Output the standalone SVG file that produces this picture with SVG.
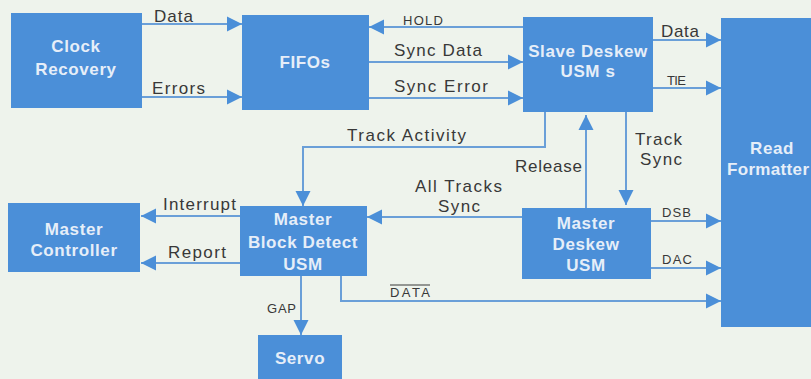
<svg xmlns="http://www.w3.org/2000/svg" width="811" height="379" viewBox="0 0 811 379">
<style>
.box{fill:#4b8fd8}
.bt{font-family:"Liberation Sans",Arial,sans-serif;font-weight:bold;font-size:17px;fill:#e6eef8;text-anchor:middle;letter-spacing:0.6px}
.lb{font-family:"Liberation Sans",Arial,sans-serif;font-size:17px;fill:#383838}
.sm{font-family:"Liberation Sans",Arial,sans-serif;font-size:13px;fill:#383838}
.cn{fill:none;stroke:#6a9fd8;stroke-width:2}
</style>
<defs>
<marker id="ah" markerUnits="userSpaceOnUse" markerWidth="16" markerHeight="16" refX="15" refY="8" orient="auto">
<path d="M0,0.5 L15,8 L0,15.5 z" fill="#4b8fd8"/>
</marker>
</defs>
<rect width="811" height="379" fill="#eef3ec"/>
<g id="connectors">
<path class="cn" d="M142,24 H242" marker-end="url(#ah)"/>
<path class="cn" d="M142,97 H242" marker-end="url(#ah)"/>
<path class="cn" d="M523,27 H369" marker-end="url(#ah)"/>
<path class="cn" d="M369,62 H523" marker-end="url(#ah)"/>
<path class="cn" d="M369,98 H523" marker-end="url(#ah)"/>
<path class="cn" d="M653,40 H721" marker-end="url(#ah)"/>
<path class="cn" d="M653,88 H721" marker-end="url(#ah)"/>
<path class="cn" d="M545,112 V147 H303 V206" marker-end="url(#ah)"/>
<path class="cn" d="M586,208 V115" marker-end="url(#ah)"/>
<path class="cn" d="M626,112 V205" marker-end="url(#ah)"/>
<path class="cn" d="M522,217 H367" marker-end="url(#ah)"/>
<path class="cn" d="M240,216 H141" marker-end="url(#ah)"/>
<path class="cn" d="M240,263 H141" marker-end="url(#ah)"/>
<path class="cn" d="M651,221 H721" marker-end="url(#ah)"/>
<path class="cn" d="M651,268 H721" marker-end="url(#ah)"/>
<path class="cn" d="M341,276 V301 H721" marker-end="url(#ah)"/>
<path class="cn" d="M301,276 V335" marker-end="url(#ah)"/>
<text class="lb" x="154" y="22" textLength="39">Data</text>
<text class="lb" x="152" y="94" textLength="53">Errors</text>
<text class="sm" x="403" y="25" textLength="40">HOLD</text>
<text class="lb" x="394" y="56" textLength="88">Sync Data</text>
<text class="lb" x="394" y="92" textLength="94">Sync Error</text>
<text class="lb" x="661" y="37" textLength="38">Data</text>
<text class="sm" x="667" y="85" textLength="19">TIE</text>
<text class="lb" x="347" y="141" textLength="119">Track Activity</text>
<text class="lb" x="515" y="172" textLength="67">Release</text>
<text class="lb" x="635" y="145" textLength="47">Track</text>
<text class="lb" x="640" y="165" textLength="42">Sync</text>
<text class="lb" x="415" y="192" textLength="87">All Tracks</text>
<text class="lb" x="438" y="212" textLength="42">Sync</text>
<text class="lb" x="163" y="210" textLength="73">Interrupt</text>
<text class="lb" x="168" y="258" textLength="58">Report</text>
<text class="sm" x="662" y="217" textLength="29">DSB</text>
<text class="sm" x="662" y="264" textLength="30">DAC</text>
<text class="sm" x="390" y="297" textLength="40">DATA</text>
<line x1="390" y1="285" x2="430" y2="285" stroke="#383838" stroke-width="1"/>
<text class="sm" x="267" y="313" textLength="29">GAP</text>
</g>
<g id="clock-recovery">
<rect class="box" x="11" y="13" width="131" height="95"/>
<text class="bt" x="76" y="52">Clock</text>
<text class="bt" x="76" y="75">Recovery</text>
</g>
<g id="fifos">
<rect class="box" x="242" y="15" width="127" height="95"/>
<text class="bt" x="305" y="68">FIFOs</text>
</g>
<g id="slave-deskew">
<rect class="box" x="523" y="17" width="130" height="95"/>
<text class="bt" x="588" y="57">Slave Deskew</text>
<text class="bt" x="588" y="77">USM s</text>
</g>
<g id="read-formatter">
<rect class="box" x="721" y="18" width="95" height="309"/>
<text class="bt" x="772" y="154">Read</text>
<text class="bt" x="727" y="175" style="text-anchor:start;letter-spacing:0" textLength="82">Formatter</text>
</g>
<g id="master-controller">
<rect class="box" x="8" y="203" width="132" height="69"/>
<text class="bt" x="74" y="235">Master</text>
<text class="bt" x="74" y="256">Controller</text>
</g>
<g id="master-block-detect">
<rect class="box" x="240" y="206" width="127" height="70"/>
<text class="bt" x="303" y="225">Master</text>
<text class="bt" x="303" y="248">Block Detect</text>
<text class="bt" x="303" y="270">USM</text>
</g>
<g id="master-deskew">
<rect class="box" x="522" y="208" width="129" height="71"/>
<text class="bt" x="586" y="229">Master</text>
<text class="bt" x="586" y="250">Deskew</text>
<text class="bt" x="586" y="271">USM</text>
</g>
<g id="servo">
<rect class="box" x="258" y="335" width="84" height="50"/>
<text class="bt" x="300" y="364">Servo</text>
</g>
</svg>
